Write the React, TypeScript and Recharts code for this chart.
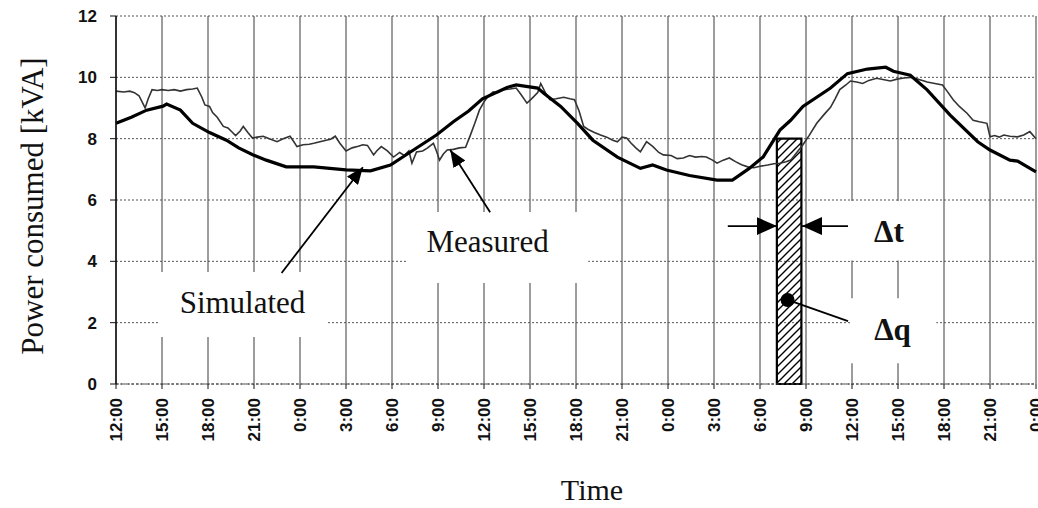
import { CartesianGrid, Line, LineChart, ReferenceArea, ReferenceDot, ReferenceLine, XAxis, YAxis } from "recharts";

const SANS = "'Liberation Sans', Arial, sans-serif";
const SERIF = "'Liberation Serif', 'Times New Roman', serif";

// x = hours since the first 12:00 (60 h in total)
const tickHours = [0, 3, 6, 9, 12, 15, 18, 21, 24, 27, 30, 33, 36, 39, 42, 45, 48, 51, 54, 57, 60];
const tickLabels = [
  "12:00", "15:00", "18:00", "21:00", "0:00", "3:00", "6:00", "9:00", "12:00", "15:00", "18:00",
  "21:00", "0:00", "3:00", "6:00", "9:00", "12:00", "15:00", "18:00", "21:00", "0:00",
];
const yTicks = [0, 2, 4, 6, 8, 10, 12];

// [hour, kVA]
const simulated: [number, number][] = [
  [0, 8.5], [1, 8.7], [2, 8.93], [3.07, 9.06], [3.3, 9.13], [4.2, 8.93], [5, 8.5], [6.1, 8.2],
  [7.2, 7.95], [8, 7.7], [8.95, 7.47], [9.8, 7.3], [11.1, 7.08], [12.9, 7.08], [15, 6.98],
  [16.6, 6.95], [17.9, 7.14], [19.4, 7.63], [20.9, 8.12], [22, 8.55], [23, 8.9], [23.9, 9.3],
  [25.5, 9.67], [26.1, 9.75], [27.5, 9.65], [27.9, 9.48], [29, 9.05], [30.1, 8.5], [31.1, 7.95],
  [32.7, 7.4], [34.2, 7.03], [35, 7.14], [35.9, 6.98], [37.4, 6.8], [39.2, 6.65], [40.2, 6.65],
  [41.3, 7.03], [42.2, 7.4], [43.3, 8.28], [44, 8.6], [44.8, 9.05], [46.6, 9.65], [47.7, 10.12],
  [49, 10.27], [50.2, 10.33], [50.7, 10.2], [51.8, 10.07], [52.9, 9.59], [54.4, 8.77],
  [56.2, 7.9], [57, 7.63], [58.3, 7.3], [58.8, 7.27], [60, 6.92],
];

const measured: [number, number][] = [
  [0, 9.55], [0.5, 9.52], [0.9, 9.55], [1.2, 9.5], [1.5, 9.4], [1.8, 9.1], [1.9, 9.0], [2.1, 9.3],
  [2.35, 9.6], [2.7, 9.57], [3, 9.6], [3.4, 9.57], [3.8, 9.6], [4.2, 9.55], [4.6, 9.6], [5, 9.62],
  [5.3, 9.65], [5.6, 9.35], [5.8, 9.1], [6.1, 9.05], [6.3, 8.85], [6.6, 8.7], [7, 8.4], [7.3, 8.35],
  [7.6, 8.2], [7.8, 8.1], [8.1, 8.25], [8.3, 8.4], [8.6, 8.2], [8.9, 8.02], [9.2, 8.05], [9.6, 8.08],
  [10, 8.0], [10.5, 7.9], [10.9, 8.0], [11.35, 8.08], [11.6, 7.9], [11.8, 7.74], [12.2, 7.8],
  [12.6, 7.82], [12.9, 7.85], [13.3, 7.9], [13.7, 7.95], [14, 7.98], [14.3, 8.08], [14.6, 7.85],
  [15, 7.6], [15.4, 7.7], [15.8, 7.75], [16.1, 7.8], [16.4, 7.78], [16.8, 7.47], [17, 7.6],
  [17.3, 7.74], [17.7, 7.6], [18.1, 7.4], [18.5, 7.55], [18.8, 7.45], [19.1, 7.6], [19.3, 7.2],
  [19.6, 7.57], [20, 7.6], [20.3, 7.69], [20.7, 7.85], [20.9, 7.6], [21.1, 7.3], [21.35, 7.5],
  [21.6, 7.63], [22, 7.65], [22.4, 7.7], [22.8, 7.72], [23.1, 8.1], [23.4, 8.5], [23.7, 8.93],
  [24, 9.2], [24.3, 9.4], [24.6, 9.53], [24.9, 9.5], [25.3, 9.6], [25.7, 9.62], [26.1, 9.65],
  [26.4, 9.45], [26.8, 9.16], [27.1, 9.3], [27.5, 9.5], [27.7, 9.8], [28, 9.5], [28.3, 9.27],
  [28.7, 9.3], [29.2, 9.35], [29.6, 9.3], [29.9, 9.27], [30.2, 8.9], [30.5, 8.4], [30.8, 8.3],
  [31.2, 8.2], [31.6, 8.12], [32, 8.05], [32.4, 7.95], [32.7, 7.9], [33, 8.05], [33.3, 8.02],
  [33.6, 7.85], [33.9, 7.7], [34.2, 7.57], [34.6, 7.9], [35, 7.75], [35.4, 7.55], [35.7, 7.47],
  [36.2, 7.45], [36.6, 7.35], [37, 7.37], [37.4, 7.45], [37.8, 7.4], [38.2, 7.42], [38.5, 7.4],
  [38.9, 7.3], [39.2, 7.2], [39.6, 7.3], [40, 7.37], [40.4, 7.25], [40.8, 7.15], [41.2, 7.08],
  [41.6, 7.05], [42, 7.1], [42.5, 7.14], [42.9, 7.18], [43.3, 7.2], [43.7, 7.25], [44, 7.3],
  [44.4, 7.55], [44.8, 7.8], [45.2, 8.1], [45.7, 8.5], [46.2, 8.8], [46.6, 9.02], [46.9, 9.3],
  [47.2, 9.6], [47.6, 9.75], [47.9, 9.88], [48.3, 9.85], [48.7, 9.8], [49.1, 9.9], [49.6, 9.97],
  [50.1, 9.92], [50.5, 9.88], [51, 9.95], [51.4, 9.98], [51.8, 10.0], [52.2, 9.95], [52.6, 9.9],
  [52.9, 9.85], [53.4, 9.8], [53.9, 9.75], [54.2, 9.55], [54.6, 9.27], [55, 9.05], [55.5, 8.83],
  [55.9, 8.6], [56.3, 8.55], [56.8, 8.5], [57, 8.06], [57.3, 8.1], [57.6, 8.05], [57.9, 8.12],
  [58.3, 8.08], [58.8, 8.06], [59.2, 8.12], [59.6, 8.23], [60, 8.0],
];

// hatched Δq block (hours, kVA)
const block = { x1: 43.1, x2: 44.7, y1: 0, y2: 8 };

// white cut-outs behind the annotation texts
const boxes = [
  { x1: 2.74, x2: 13.83, y1: 1.53, y2: 3.65 },
  { x1: 18.98, x2: 30.8, y1: 3.29, y2: 5.61 },
  { x1: 45.2, x2: 53.9, y1: 4.03, y2: 5.97 },
  { x1: 47.9, x2: 53.5, y1: 0.68, y2: 2.8 },
];

const notes = [
  { x: 8.25, y: 2.67, text: "Simulated", bold: false },
  { x: 24.23, y: 4.66, text: "Measured", bold: false },
  { x: 50.41, y: 4.99, text: "Δt", bold: true },
  { x: 50.64, y: 1.79, text: "Δq", bold: true },
];

const arrows = [
  { from: [10.8, 3.62], to: [16.1, 7.07], head: "small" },
  { from: [24.4, 5.6], to: [21.8, 7.63], head: "small" },
  { from: [39.9, 5.15], to: [43.1, 5.15], head: "big" },
  { from: [47.74, 5.15], to: [44.74, 5.15], head: "big" },
  { from: [43.8, 2.74], to: [47.74, 2.05], head: "" },
];

const toPts = (arr: [number, number][]) => arr.map(([h, v]) => ({ h, v }));
const simData = toPts(simulated);
const measData = toPts(measured);

function HourTick({ x, y, payload }: any) {
  const i = tickHours.indexOf(payload.value);
  return (
    <text
      x={x}
      y={y}
      transform={`rotate(-90, ${x}, ${y})`}
      textAnchor="end"
      dy="0.36em"
      fontSize={17}
      fontWeight={700}
      fontFamily={SANS}
      fill="#111"
    >
      {tickLabels[i]}
    </text>
  );
}

export default function App() {
  return (
    <div style={{ position: "absolute", left: 0, top: 0, width: 1038, height: 508, background: "#fff" }}>
      <svg width={0} height={0} style={{ position: "absolute" }}>
        <defs>
          <pattern id="hatch" patternUnits="userSpaceOnUse" width={8} height={8}>
            <path d="M-1,1 l2,-2 M0,8 l8,-8 M7,9 l2,-2" stroke="#000" strokeWidth={1.4} />
          </pattern>
          <marker id="head-big" markerUnits="userSpaceOnUse" markerWidth={20} markerHeight={18} viewBox="0 0 20 18" refX={20} refY={9} orient="auto">
            <path d="M0,0 L20,9 L0,18 z" fill="#000" />
          </marker>
          <marker id="head-small" markerUnits="userSpaceOnUse" markerWidth={17} markerHeight={14} viewBox="0 0 17 14" refX={17} refY={7} orient="auto">
            <path d="M0,0 L17,7 L0,14 z" fill="#000" />
          </marker>
        </defs>
      </svg>
      <LineChart width={1038} height={508} margin={{ top: 16, right: 2, bottom: 0, left: 56 }}>
        <CartesianGrid horizontal={false} stroke="#3a3a3a" strokeWidth={1} />
        <CartesianGrid vertical={false} stroke="#555" strokeDasharray="2 2" />
        <XAxis
          dataKey="h"
          type="number"
          domain={[0, 60]}
          ticks={tickHours}
          interval={0}
          height={124}
          tickSize={5}
          tickMargin={9}
          tick={<HourTick />}
          axisLine={{ stroke: "#444", strokeDasharray: "3 2" }}
          tickLine={{ stroke: "#111" }}
          label={(p: any) => {
            const vb = p.viewBox;
            return (
              <text x={vb.x + vb.width / 2 + 16} y={500} textAnchor="middle" fontSize={30} fontFamily={SERIF} fill="#111">
                Time
              </text>
            );
          }}
        />
        <YAxis
          type="number"
          domain={[0, 12]}
          ticks={yTicks}
          width={60}
          tickSize={6}
          tickMargin={13}
          tick={{ fontSize: 17, fontWeight: 700, fontFamily: SANS, fill: "#111" }}
          axisLine={{ stroke: "#111", strokeWidth: 1.5 }}
          tickLine={{ stroke: "#111" }}
          label={(p: any) => {
            const vb = p.viewBox;
            const cx = 32;
            const cy = vb.y + vb.height / 2 + 6;
            return (
              <text
                x={cx}
                y={cy}
                transform={`rotate(-90, ${cx}, ${cy})`}
                textAnchor="middle"
                dy="0.35em"
                fontSize={31}
                fontFamily={SERIF}
                fill="#111"
              >
                Power consumed [kVA]
              </text>
            );
          }}
        />
        {boxes.map((b, i) => (
          <ReferenceArea key={`box${i}`} x1={b.x1} x2={b.x2} y1={b.y1} y2={b.y2} fill="#fff" fillOpacity={1} stroke="none" />
        ))}
        <ReferenceArea
          x1={block.x1}
          x2={block.x2}
          y1={block.y1}
          y2={block.y2}
          fill="url(#hatch)"
          fillOpacity={1}
          stroke="#000"
          strokeWidth={2.2}
        />
        <Line
          data={measData}
          dataKey="v"
          type="linear"
          stroke="#333"
          strokeWidth={1.6}
          dot={false}
          isAnimationActive={false}
        />
        <Line
          data={simData}
          dataKey="v"
          type="linear"
          stroke="#000"
          strokeWidth={3.2}
          dot={false}
          isAnimationActive={false}
        />
        {arrows.map((a, i) => (
          <ReferenceLine
            key={`arr${i}`}
            segment={[
              { x: a.from[0], y: a.from[1] },
              { x: a.to[0], y: a.to[1] },
            ]}
            shape={(p: any) => (
              <line
                x1={p.x1}
                y1={p.y1}
                x2={p.x2}
                y2={p.y2}
                stroke="#000"
                strokeWidth={1.8}
                markerEnd={a.head ? `url(#head-${a.head})` : undefined}
              />
            )}
          />
        ))}
        <ReferenceDot x={43.8} y={2.74} r={7} fill="#000" stroke="none" />
        {notes.map((n, i) => (
          <ReferenceDot
            key={`note${i}`}
            x={n.x}
            y={n.y}
            r={0}
            fill="none"
            stroke="none"
            label={(p: any) => {
              const vb = p.viewBox;
              return (
                <text
                  x={vb.x + vb.width / 2}
                  y={vb.y + vb.height / 2}
                  textAnchor="middle"
                  dy="0.35em"
                  fontSize={31}
                  fontWeight={n.bold ? 700 : 400}
                  fontFamily={SERIF}
                  fill="#111"
                >
                  {n.text}
                </text>
              );
            }}
          />
        ))}
      </LineChart>
    </div>
  );
}
